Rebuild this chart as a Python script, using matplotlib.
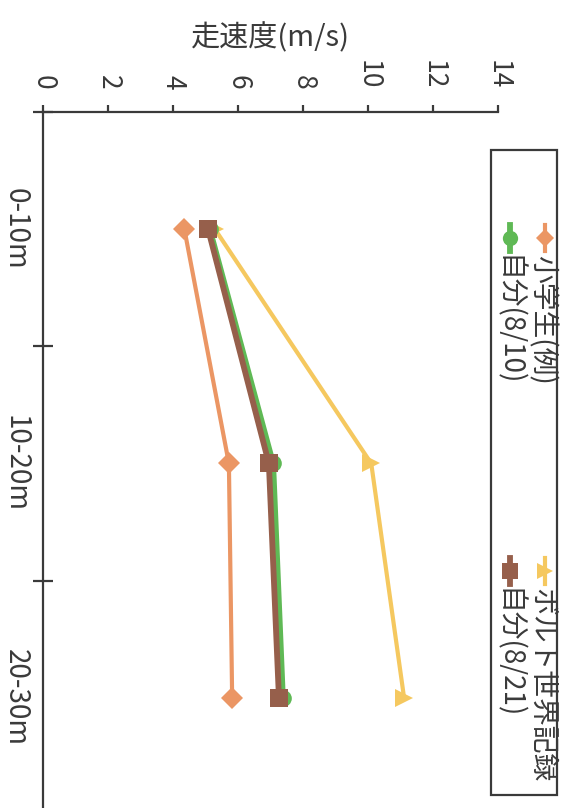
import matplotlib
matplotlib.use("Agg")
import matplotlib.pyplot as plt
from matplotlib.lines import Line2D
from matplotlib.patches import Rectangle

plt.rcParams['font.family'] = ['Noto Sans CJK JP', 'DejaVu Sans']

# ---- data ----
categories = ['0-10m', '10-20m', '20-30m']
series_names = ['小学生(例)', 'ボルト世界記録', '自分(8/10)', '自分(8/21)']
shogakusei = [4.35, 5.72, 5.82]
bolt = [5.29, 10.10, 11.11]
jibun_0810 = [5.10, 7.05, 7.35]
jibun_0821 = [5.08, 6.95, 7.26]
value_ticks = [0, 2, 4, 6, 8, 10, 12, 14]
axis_label = '走速度(m/s)'

# ---- styles ----
c_orange = '#EB9664'
c_yellow = '#F5C85F'
c_green = '#5FB955'
c_brown = '#965F4B'
c_axis = '#3a3a3a'

W, H = 571, 808
fig = plt.figure(figsize=(W / 100, H / 100), dpi=100)

def fx(x):
    return x / W

def fy(y):
    return 1 - y / H

ax = fig.add_axes([fx(43), fy(815), (498 - 43) / W, (815 - 112) / H])
ax.set_xlim(0, 14)
ax.set_ylim(3, 0)

pos = [i + 0.5 for i in range(len(categories))]

ax.plot(shogakusei, pos, color=c_orange, lw=3, marker='D', ms=11, mew=0, zorder=3)
ax.plot(bolt, pos, color=c_yellow, lw=3, marker='>', ms=13, mew=0, zorder=2)
ax.plot([v + 0.03 for v in jibun_0810], pos, color=c_green, lw=4.2, marker='o', ms=12, mew=0, zorder=3)
ax.plot(jibun_0821, pos, color=c_brown, lw=4.2, marker='s', ms=13.5, mew=0, zorder=4)

for s in ['right', 'bottom']:
    ax.spines[s].set_visible(False)
for s in ['top', 'left']:
    ax.spines[s].set_color(c_axis)
    ax.spines[s].set_linewidth(1.6)

ax.xaxis.tick_top()
ax.set_xticks(value_ticks)
ax.set_xticklabels([str(v) for v in value_ticks])
ax.tick_params(axis='x', which='major', direction='out', length=5, width=1.6,
               color=c_axis, labelcolor=c_axis, labelsize=19, labelrotation=-90, pad=11)

ax.set_yticks([0, 1, 2, 3])
ax.set_yticklabels([])
ax.set_yticks(pos, minor=True)
ax.set_yticklabels(categories, minor=True, va='center')
ax.tick_params(axis='y', which='major', direction='inout', length=14, width=1.6, color=c_axis)
ax.tick_params(axis='y', which='minor', length=0, labelsize=20, labelcolor=c_axis,
               labelrotation=-90, pad=9)

ax.xaxis.set_label_position('top')
ax.set_xlabel(axis_label, fontsize=21, color=c_axis, labelpad=10)

# ---- legend (rotated) ----
fig.add_artist(Rectangle((fx(491), fy(795)), (557 - 491) / W, (795 - 150) / H,
                         transform=fig.transFigure, fill=False, edgecolor=c_axis, lw=1.6))

entries = [
    (series_names[0], c_orange, 'D', 9, 545, 238),
    (series_names[2], c_green, 'o', 11, 510, 238),
    (series_names[1], c_yellow, '>', 11, 545, 571),
    (series_names[3], c_brown, 's', 11, 510, 571),
]
for name, col, mk, ms, x, y in entries:
    lw = 3 if col in (c_orange, c_yellow) else 4.2
    fig.add_artist(Line2D([fx(x), fx(x)], [fy(y - 13), fy(y + 13)], transform=fig.transFigure,
                          color=col, lw=lw, marker=None))
    fig.add_artist(Line2D([fx(x)], [fy(y)], transform=fig.transFigure,
                          color=col, marker=mk, ms=ms, mew=0, ls='none'))
    fig.text(fx(x - 3), fy(y + 17), name, rotation=-90, ha='center', va='top',
             fontsize=20, color=c_axis)

fig.savefig('out.png', dpi=100, facecolor='white')
